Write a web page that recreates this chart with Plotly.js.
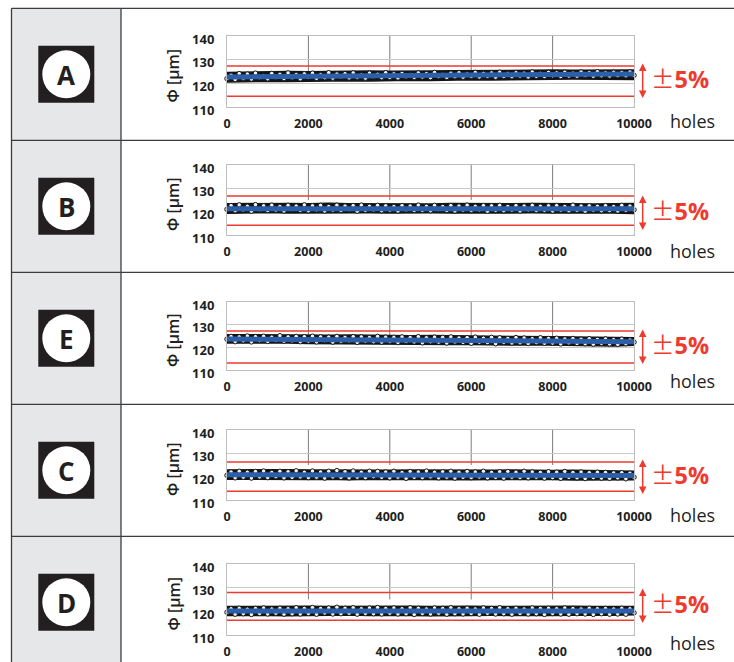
<!DOCTYPE html>
<html><head><meta charset="utf-8">
<script src="https://cdn.plot.ly/plotly-3.0.1.min.js"></script>
<style>html,body{margin:0;padding:0;background:#fff}#chart{width:734px;height:662px}</style>
</head><body><div id="chart"></div>
<script>
const W = 734, H = 662;
const panelLabels = ['A', 'B', 'E', 'C', 'D'];
const holes = [0,100,200,300,400,500,600,700,800,900,1000,1100,1200,1300,1400,1500,1600,1700,1800,1900,2000,2100,2200,2300,2400,2500,2600,2700,2800,2900,3000,3100,3200,3300,3400,3500,3600,3700,3800,3900,4000,4100,4200,4300,4400,4500,4600,4700,4800,4900,5000,5100,5200,5300,5400,5500,5600,5700,5800,5900,6000,6100,6200,6300,6400,6500,6600,6700,6800,6900,7000,7100,7200,7300,7400,7500,7600,7700,7800,7900,8000,8100,8200,8300,8400,8500,8600,8700,8800,8900,9000,9100,9200,9300,9400,9500,9600,9700,9800,9900,10000];
const diaA = [122.0,123.4,121.6,124.1,122.2,123.9,121.8,124.3,122.5,123.1,121.9,124.2,122.6,123.8,122.0,124.4,122.4,123.7,121.9,124.0,
122.7,124.3,122.1,123.6,122.4,124.5,122.2,123.9,122.8,124.1,122.3,124.4,122.6,123.5,122.2,124.3,122.9,123.8,122.4,124.5,
122.5,124.0,122.3,124.2,122.8,123.6,122.5,124.4,122.7,124.1,122.4,124.6,122.9,123.7,122.5,124.3,122.8,124.5,122.6,123.9,
122.9,124.6,122.7,124.2,123.0,124.4,122.6,124.7,122.9,124.0,122.8,124.5,123.1,124.3,122.7,124.8,123.0,124.2,122.9,124.6,
123.2,124.4,122.9,124.7,123.1,124.3,123.0,124.8,123.3,124.5,123.0,124.9,123.2,124.4,123.1,124.7,123.3,124.6,123.2,124.8,123.4];
const diaB = [121.0,122.6,120.4,122.9,120.8,122.3,120.2,123.0,120.9,122.5,120.5,122.8,120.7,122.2,120.3,122.7,121.0,122.4,120.6,122.9,
120.4,122.5,120.8,122.7,120.3,122.2,120.7,122.8,120.5,122.4,120.9,122.6,120.2,122.8,120.6,122.3,120.8,122.7,120.4,122.5,
120.7,122.2,120.3,122.6,120.8,122.4,120.5,122.8,120.6,122.3,120.4,122.7,120.9,122.2,120.5,122.6,120.3,122.4,120.7,122.8,
120.5,122.3,120.8,122.6,120.2,122.5,120.6,122.7,120.4,122.2,120.7,122.6,120.3,122.4,120.8,122.7,120.5,122.3,120.6,122.5,
120.3,122.6,120.7,122.2,120.4,122.8,120.6,122.4,120.2,122.5,120.7,122.3,120.4,122.6,120.5,122.2,120.3,122.7,120.6,122.4,120.8];
const diaE = [123.6,124.8,122.5,124.6,122.9,125.0,122.4,124.7,123.0,124.9,122.6,124.5,123.1,125.1,122.7,124.6,122.9,124.8,122.5,124.7,
122.8,124.9,122.4,124.6,123.0,124.5,122.3,124.8,122.7,124.4,122.9,124.7,122.2,124.6,122.8,124.3,122.5,124.8,122.3,124.5,
122.7,124.4,122.1,124.6,122.6,124.3,122.4,124.7,122.0,124.2,122.5,124.5,122.3,124.4,121.9,124.6,122.4,124.1,122.2,124.3,
121.8,124.5,122.3,124.0,122.1,124.4,121.6,124.2,122.2,123.9,121.9,124.3,122.0,124.1,121.7,123.8,122.1,124.2,121.8,123.9,
121.9,124.0,121.5,123.7,122.0,123.9,121.7,123.6,121.6,123.8,121.4,123.5,121.8,123.7,121.5,123.4,121.3,123.6,121.6,123.2,122.3];
const diaC = [120.6,122.0,119.5,122.3,119.8,121.9,119.4,122.2,119.9,122.4,119.6,121.8,120.0,122.3,119.5,122.1,119.7,122.5,119.9,121.9,
119.6,122.4,119.8,122.0,119.4,122.3,119.9,122.6,119.7,122.1,119.5,122.4,119.8,121.9,119.6,122.3,120.0,122.2,119.7,122.0,
119.5,122.3,119.8,121.8,119.3,122.2,119.7,122.0,119.6,122.4,119.9,121.9,119.5,122.1,119.8,122.3,119.4,121.9,119.7,122.2,
119.6,122.0,119.9,122.3,119.5,121.8,119.7,122.1,119.4,122.2,119.8,121.9,119.6,122.3,119.5,122.0,119.8,121.8,119.4,122.1,
119.6,121.9,119.3,122.2,119.7,121.8,119.5,122.0,119.2,121.7,119.6,121.9,119.4,121.8,119.3,121.6,119.5,121.7,119.1,121.5,119.8];
const diaD = [119.6,121.1,118.8,121.3,119.0,120.9,118.7,121.2,119.1,121.4,118.9,121.0,119.2,121.3,118.8,121.1,119.0,121.5,118.9,121.2,
119.1,121.6,118.8,121.2,119.3,121.4,118.9,121.7,119.0,121.3,119.2,121.5,118.8,121.1,119.1,121.4,119.0,121.6,118.9,121.2,
119.2,121.4,118.9,121.1,119.0,121.5,118.7,121.3,119.1,121.0,118.9,121.4,119.2,121.2,118.8,121.5,119.0,121.1,118.9,121.3,
119.1,121.0,118.8,121.4,119.2,121.2,118.9,121.5,119.0,121.1,118.8,121.3,119.1,121.0,118.9,121.4,119.0,121.2,118.7,121.3,
119.1,121.1,118.9,121.4,118.8,121.2,119.0,121.0,118.9,121.3,118.7,121.1,119.0,121.2,118.8,121.0,118.9,121.3,118.8,121.1,119.4];

// upper / lower edges of the dense point cloud, read every 500 holes
const edgeHoles = [0,500,1000,1500,2000,2500,3000,3500,4000,4500,5000,5500,6000,6500,7000,7500,8000,8500,9000,9500,10000];
const upperA = [124.6,124.8,124.9,125.0,124.9,125.1,125.0,125.2,125.1,125.3,125.2,125.3,125.4,125.3,125.5,125.4,125.6,125.5,125.6,125.7,125.6];
const lowerA = [120.6,120.8,120.9,120.8,121.0,121.0,121.1,121.0,121.2,121.3,121.2,121.4,121.5,121.4,121.6,121.5,121.7,121.8,121.7,121.9,121.6];
const upperB = [123.4,123.5,123.3,123.5,123.4,123.6,123.4,123.3,123.5,123.4,123.3,123.5,123.4,123.3,123.4,123.5,123.3,123.4,123.3,123.4,123.5];
const lowerB = [119.3,119.5,119.6,119.4,119.5,119.4,119.6,119.5,119.4,119.6,119.5,119.4,119.5,119.6,119.4,119.5,119.4,119.5,119.6,119.4,119.2];
const upperE = [125.6,125.5,125.6,125.4,125.5,125.3,125.4,125.2,125.3,125.1,125.2,125.0,125.1,124.9,124.8,124.9,124.7,124.6,124.5,124.4,124.2];
const lowerE = [121.9,122.0,121.8,121.9,121.7,121.6,121.7,121.5,121.4,121.5,121.3,121.2,121.3,121.1,121.0,121.1,120.9,120.8,120.7,120.6,120.9];
const upperC = [122.9,123.0,122.8,123.0,122.9,122.8,123.0,122.9,122.7,122.9,122.8,122.9,122.7,122.8,122.9,122.7,122.6,122.7,122.5,122.4,122.3];
const lowerC = [118.9,118.8,119.0,118.9,118.8,118.9,118.7,118.9,118.8,118.7,118.9,118.8,118.7,118.8,118.9,118.7,118.8,118.6,118.7,118.5,118.7];
const upperD = [122.0,122.1,122.0,122.2,122.1,122.0,122.1,122.2,122.0,122.1,122.0,122.2,122.1,122.0,122.1,122.0,122.1,122.2,122.0,122.1,122.0];
const lowerD = [118.2,118.3,118.2,118.1,118.3,118.2,118.4,118.2,118.3,118.2,118.1,118.3,118.2,118.3,118.2,118.4,118.2,118.3,118.2,118.3,118.6];

const trendHoles = [0, 2000, 4000, 6000, 8000, 10000];
const trendA = [122.7, 123.1, 123.3, 123.5, 123.7, 123.9];
const trendB = [121.3, 121.3, 121.3, 121.3, 121.2, 121.2];
const trendE = [123.7, 123.5, 123.3, 123.0, 122.8, 122.5];
const trendC = [120.8, 120.8, 120.8, 120.7, 120.7, 120.5];
const trendD = [120.1, 120.1, 120.1, 120.1, 120.1, 120.1];
const limitUpper = [127.3, 126.7, 127.2, 126.3, 128.0];
const limitLower = [114.5, 114.2, 113.1, 113.7, 116.2];
const limitHoles = [0, 10000];
const yTicks = [110, 120, 130, 140];
const xTicks = [0, 2000, 4000, 6000, 8000, 10000];
const xTickText = ['0', '2000', '4000', '6000', '8000', '10000'];
const xGrid = [2000, 4000, 6000, 8000];
const yAxisTitle = 'Φ [μm]';
const tolSign = '±';
const tolValue = '5%';
const xUnit = 'holes';

const series = [diaA, diaB, diaE, diaC, diaD];
const uppers = [upperA, upperB, upperE, upperC, upperD];
const lowers = [lowerA, lowerB, lowerE, lowerC, lowerD];
const trends = [trendA, trendB, trendE, trendC, trendD];

const rowTops = [8.3, 140.3, 272.3, 404.3, 536.3];
const plotTop = [36, 165, 302, 430, 564];
const plotBot = [107, 235, 370, 500, 635];
const pctY = [80, 212, 346, 476, 605];
const holesY = [121, 251, 381, 515, 643];
const px = v => v / W;
const py = v => 1 - v / H;

const DARK = '#231f20', RED = '#ee3a2f', BLUE = '#2c5faa', LINE = '#3c3c3c', INK = '#141414';
const data = [], shapes = [], annotations = [];
const layout = {
  width: W, height: H, margin: {l: 0, r: 0, t: 0, b: 0},
  paper_bgcolor: '#ffffff', plot_bgcolor: '#ffffff', showlegend: false,
  font: {family: 'Open Sans, sans-serif', color: DARK}
};

shapes.push({type: 'rect', xref: 'paper', yref: 'paper', x0: px(11.5), x1: px(121), y0: py(8.3), y1: py(662), fillcolor: '#e6e7e9', line: {width: 0}, layer: 'below'});
shapes.push({type: 'line', xref: 'paper', yref: 'paper', x0: px(11.5), x1: px(11.5), y0: py(8.3), y1: py(662), line: {color: LINE, width: 1.3}});
shapes.push({type: 'line', xref: 'paper', yref: 'paper', x0: px(121), x1: px(121), y0: py(8.3), y1: py(662), line: {color: LINE, width: 1.3}});
rowTops.forEach(t => shapes.push({type: 'line', xref: 'paper', yref: 'paper', x0: px(11.5), x1: 1, y0: py(t), y1: py(t), line: {color: LINE, width: 1.3}}));

panelLabels.forEach((lab, i) => {
  const n = i + 1, sfx = n === 1 ? '' : String(n);
  const xa = 'x' + sfx, ya = 'y' + sfx;
  const cy = rowTops[i] + 66;
  shapes.push({type: 'rect', xref: 'paper', yref: 'paper', x0: px(38.3), x1: px(94.3), y0: py(cy - 28.5), y1: py(cy + 28.5), fillcolor: DARK, line: {width: 0}});
  shapes.push({type: 'circle', xref: 'paper', yref: 'paper', x0: px(66.3 - 24), x1: px(66.3 + 24), y0: py(cy - 24), y1: py(cy + 24), fillcolor: '#ffffff', line: {width: 0}});
  annotations.push({xref: 'paper', yref: 'paper', x: px(66.3), y: py(cy + 1), text: lab, showarrow: false, xanchor: 'center', yanchor: 'middle', font: {family: 'Open Sans', size: 26, weight: 700, color: DARK}});

  layout['xaxis' + sfx] = {
    domain: [px(227), px(634)], anchor: ya, range: [0, 10000], tickvals: xTicks, ticktext: xTickText,
    showgrid: false, zeroline: false, showline: true, mirror: true, linecolor: '#bdbdbd', linewidth: 1,
    ticks: '', ticklabelstandoff: 5, tickfont: {family: 'Open Sans', size: 12.5, weight: 700, color: DARK}, fixedrange: true
  };
  layout['yaxis' + sfx] = {
    domain: [py(plotBot[i]), py(plotTop[i])], anchor: xa, range: [110, 140], tickvals: yTicks,
    showgrid: true, gridcolor: '#c9c9c9', gridwidth: 1, zeroline: false, showline: true, mirror: true, linecolor: '#bdbdbd', linewidth: 1,
    ticks: '', ticklabelstandoff: 9, ticklabelshift: 3, tickfont: {family: 'Open Sans', size: 13, weight: 700, color: DARK}, fixedrange: true
  };
  xGrid.forEach(g => shapes.push({type: 'line', xref: xa, yref: ya, x0: g, x1: g, y0: 125, y1: 140, line: {color: '#7d7d7d', width: 1}, layer: 'below'}));

  data.push({type: 'scatter', mode: 'lines', x: limitHoles, y: [limitUpper[i], limitUpper[i]], xaxis: xa, yaxis: ya, line: {color: RED, width: 1.5}, hoverinfo: 'skip'});
  data.push({type: 'scatter', mode: 'lines', x: limitHoles, y: [limitLower[i], limitLower[i]], xaxis: xa, yaxis: ya, line: {color: RED, width: 1.5}, hoverinfo: 'skip'});
  data.push({type: 'scatter', mode: 'lines', x: edgeHoles, y: lowers[i], xaxis: xa, yaxis: ya, line: {color: INK, width: 1.5}, hoverinfo: 'skip'});
  data.push({type: 'scatter', mode: 'lines', x: edgeHoles, y: uppers[i], xaxis: xa, yaxis: ya, line: {color: INK, width: 1.5}, fill: 'tonexty', fillcolor: INK, hoverinfo: 'skip'});
  data.push({type: 'scatter', mode: 'markers', x: holes, y: series[i], xaxis: xa, yaxis: ya, cliponaxis: false,
    marker: {symbol: 'circle', size: 4.5, color: '#f2f2f2', line: {color: INK, width: 1}}});
  data.push({type: 'scatter', mode: 'lines', x: trendHoles, y: trends[i], xaxis: xa, yaxis: ya, line: {color: BLUE, width: 5}});

  annotations.push({xref: 'paper', yref: 'paper', x: px(173), y: py((plotTop[i] + plotBot[i]) / 2 + 5), text: yAxisTitle, textangle: -90, showarrow: false, xanchor: 'center', yanchor: 'middle', font: {family: 'Open Sans', size: 16, weight: 600, color: DARK}});
  annotations.push({xref: 'paper', yref: 'paper', x: px(649), y: py(pctY[i] - 2), text: '<span style="font-family:Noto Sans CJK JP;font-weight:400">' + tolSign + '</span><b>' + tolValue + '</b>', showarrow: false, xanchor: 'left', yanchor: 'middle', font: {family: 'Open Sans', size: 23.5, color: RED}});
  annotations.push({xref: 'paper', yref: 'paper', x: px(642.7), y: py(pctY[i] + 18), ax: 0, ay: -36, text: '', showarrow: true, arrowside: 'end+start', arrowhead: 2, arrowsize: 1, arrowwidth: 1.5, arrowcolor: RED});
  annotations.push({xref: 'paper', yref: 'paper', x: px(668), y: py(holesY[i]), text: xUnit, showarrow: false, xanchor: 'left', yanchor: 'middle', font: {family: 'Open Sans', size: 18, color: DARK}});
});

layout.shapes = shapes;
layout.annotations = annotations;
Plotly.newPlot('chart', data, layout, {staticPlot: true, displayModeBar: false});
</script></body></html>
